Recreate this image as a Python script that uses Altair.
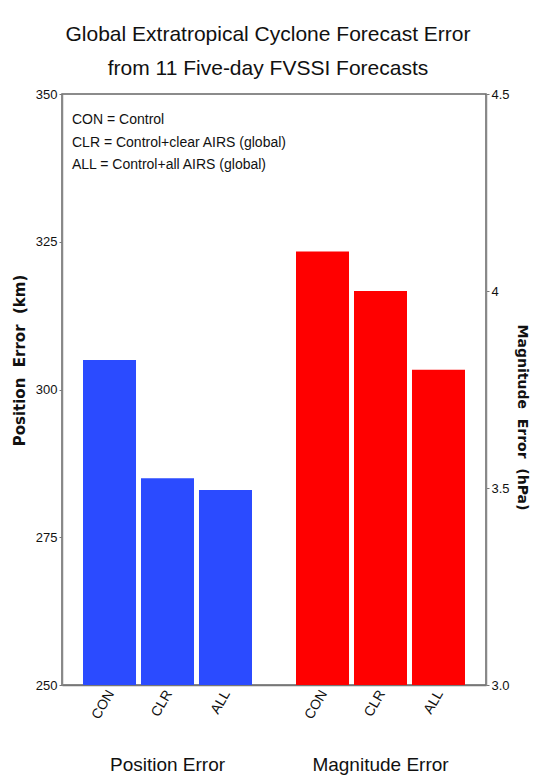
import altair as alt
import pandas as pd

groups = ["Position Error", "Magnitude Error"]
experiments = ["CON", "CLR", "ALL"]
position_error_km = [305, 285, 283]
magnitude_error_hpa = [4.1, 4.0, 3.8]
legend_lines = ["CON = Control", "CLR = Control+clear AIRS (global)", "ALL = Control+all AIRS (global)"]
title_lines = ["Global Extratropical Cyclone Forecast Error", "from 11 Five-day FVSSI Forecasts"]

rows = []
for e, v in zip(experiments, position_error_km):
    rows.append({"group": groups[0], "exp": e, "value": v})
for e, v in zip(experiments, magnitude_error_hpa):
    rows.append({"group": groups[1], "exp": e, "value": v})
df = pd.DataFrame(rows)

W, H = 424, 591
FONT = "Liberation Sans Narrow, Liberation Sans, Arial, sans-serif"

x_enc = alt.X(
    "group:N",
    sort=groups,
    scale=alt.Scale(domain=groups, paddingInner=0.2066, paddingOuter=0.0986),
    axis=alt.Axis(title=None, ticks=False, labelPadding=70, labelFontSize=19, labelFont=FONT,
                  labelColor="#111", labelAngle=0, labelBaseline="top",
                  domainColor="#777", domainWidth=1.5),
)
xo_enc = alt.XOffset("exp:N", sort=experiments,
                     scale=alt.Scale(domain=experiments, paddingInner=0.086, paddingOuter=0))

base = alt.Chart(df)

blue = base.transform_filter(alt.datum.group == groups[0]).mark_bar(color="#2b4bff").encode(
    x=x_enc,
    xOffset=xo_enc,
    y=alt.Y("value:Q",
            scale=alt.Scale(domain=[250, 350], nice=False, zero=False),
            axis=alt.Axis(orient="left", values=[250, 275, 300, 325, 350], grid=False,
                          title="Position\u00a0\u00a0Error\u00a0\u00a0(km)", titleFont="DejaVu Sans",
                          titleFontWeight="bold", titleFontSize=15, titleColor="#111",
                          titleY=266, titlePadding=8,
                          labelFont=FONT, labelFontSize=13, labelColor="#111",
                          tickSize=3, tickColor="#777", domainColor="#888", domainWidth=1.5)),
    y2=alt.Y2Datum(250),
)

red = base.transform_filter(alt.datum.group == groups[1]).mark_bar(color="#ff0000").encode(
    x=x_enc,
    xOffset=xo_enc,
    y=alt.Y("value:Q",
            scale=alt.Scale(domain=[3.0, 4.5], nice=False, zero=False),
            axis=alt.Axis(orient="right", values=[3.0, 3.5, 4.0, 4.5], grid=False,
                          labelExpr="datum.value == 4 ? '4' : format(datum.value, '.1f')",
                          title="Magnitude\u00a0\u00a0Error\u00a0\u00a0(hPa)", titleFont="DejaVu Sans",
                          titleFontWeight="bold", titleFontSize=14, titleColor="#111",
                          titleY=323, titlePadding=5,
                          labelFont=FONT, labelFontSize=13, labelColor="#111",
                          tickSize=3, tickColor="#777", domainColor="#888", domainWidth=1.5)),
    y2=alt.Y2Datum(3.0),
)

cat_labels = base.mark_text(angle=300, align="right", baseline="middle", fontSize=14,
                            font=FONT, dx=3, color="#111").encode(
    x=x_enc,
    xOffset=xo_enc,
    y=alt.value(H + 9),
    text="exp:N",
)

legend = alt.Chart(alt.Data(values=[{}])).mark_text(
    align="left", baseline="top", fontSize=14, font=FONT, lineHeight=22.5,
    text=legend_lines, color="#111").encode(x=alt.value(10), y=alt.value(19))

chart = alt.layer(blue, red, cat_labels, legend).resolve_scale(y="independent").properties(
    width=W, height=H,
    autosize=alt.AutoSizeParams(type="none"),
    padding={"left": 54, "top": 86, "right": 44, "bottom": 92},
    title=alt.TitleParams(title_lines, fontSize=21, font=FONT, fontWeight="normal",
                          lineHeight=34, offset=9, anchor="middle", dx=-6, color="#111"),
).configure_view(stroke="#666", strokeWidth=1.5)

chart.save("out.html", embed_options={"renderer": "svg", "actions": False})
